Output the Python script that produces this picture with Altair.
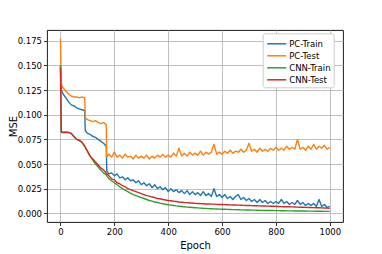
import altair as alt
import pandas as pd

epochs = [0, 3, 10, 20, 30, 40, 50, 60, 70, 80, 90, 92, 100, 110, 120, 130, 140, 150, 160, 170, 172, 180] + list(range(190, 1001, 10))

pc_train = [0.150, 0.125, 0.121, 0.117, 0.113, 0.110, 0.109, 0.107, 0.106, 0.105, 0.104, 0.084,
            0.081, 0.080, 0.078, 0.077, 0.075, 0.073, 0.071, 0.068, 0.043, 0.040,
            0.041, 0.038, 0.040, 0.036, 0.037, 0.034, 0.036, 0.033, 0.034, 0.031,
            0.033, 0.029, 0.031, 0.028, 0.030, 0.026, 0.029, 0.025, 0.027, 0.024,
            0.026, 0.022, 0.025, 0.022, 0.024, 0.021, 0.023, 0.020, 0.023, 0.019,
            0.022, 0.019, 0.021, 0.018, 0.022, 0.018, 0.020, 0.017, 0.025, 0.017,
            0.019, 0.016, 0.019, 0.015, 0.017, 0.014, 0.017, 0.019, 0.014, 0.016,
            0.013, 0.015, 0.012, 0.014, 0.011, 0.014, 0.011, 0.013, 0.010, 0.012,
            0.010, 0.012, 0.010, 0.014, 0.010, 0.012, 0.009, 0.011, 0.009, 0.013,
            0.009, 0.011, 0.008, 0.010, 0.008, 0.010, 0.007, 0.014, 0.007, 0.009,
            0.006, 0.007]

pc_test = [0.177, 0.131, 0.127, 0.124, 0.121, 0.119, 0.118, 0.118, 0.117, 0.118, 0.117, 0.097,
           0.095, 0.094, 0.093, 0.094, 0.092, 0.091, 0.092, 0.090, 0.057, 0.060,
           0.057, 0.062, 0.057, 0.059, 0.056, 0.060, 0.057, 0.058, 0.055, 0.059,
           0.056, 0.058, 0.056, 0.059, 0.055, 0.058, 0.056, 0.059, 0.057, 0.060,
           0.057, 0.059, 0.057, 0.061, 0.058, 0.066, 0.058, 0.061, 0.058, 0.062,
           0.059, 0.061, 0.059, 0.063, 0.059, 0.062, 0.060, 0.062, 0.070, 0.060,
           0.062, 0.060, 0.063, 0.061, 0.064, 0.061, 0.063, 0.062, 0.065, 0.062,
           0.064, 0.071, 0.063, 0.065, 0.062, 0.066, 0.063, 0.065, 0.063, 0.066,
           0.064, 0.067, 0.064, 0.066, 0.064, 0.068, 0.065, 0.067, 0.065, 0.075,
           0.065, 0.067, 0.064, 0.068, 0.065, 0.070, 0.065, 0.068, 0.066, 0.069,
           0.065, 0.067]

cnn_train = [0.150, 0.082, 0.082, 0.0825, 0.082, 0.081, 0.078, 0.075, 0.074, 0.072, 0.068, 0.067,
             0.063, 0.058, 0.054, 0.050, 0.047, 0.044, 0.041, 0.039, 0.038, 0.035,
             0.033, 0.031, 0.029, 0.027, 0.025, 0.0235, 0.022, 0.0205, 0.019, 0.018,
             0.017, 0.016, 0.015, 0.014, 0.013, 0.0123, 0.0115, 0.011, 0.0103, 0.0097,
             0.0092, 0.0087, 0.0083, 0.0079, 0.0075, 0.0072, 0.0069, 0.0066, 0.0063, 0.0061,
             0.0059, 0.0057, 0.0055, 0.0053, 0.0051, 0.0050, 0.0048, 0.0047, 0.0045, 0.0044,
             0.0043, 0.0042, 0.0041, 0.0040, 0.0039, 0.0038, 0.0037, 0.0036, 0.0035, 0.0035,
             0.0034, 0.0033, 0.0032, 0.0032, 0.0031, 0.0030, 0.0030, 0.0029, 0.0029, 0.0028,
             0.0028, 0.0027, 0.0027, 0.0026, 0.0026, 0.0025, 0.0025, 0.0025, 0.0024, 0.0024,
             0.0023, 0.0023, 0.0023, 0.0022, 0.0022, 0.0022, 0.0021, 0.0021, 0.0021, 0.0020,
             0.0020, 0.0020]

cnn_test = [0.147, 0.083, 0.082, 0.082, 0.082, 0.081, 0.078, 0.075, 0.074, 0.072, 0.068, 0.067,
            0.063, 0.058, 0.055, 0.052, 0.049, 0.046, 0.044, 0.041, 0.040, 0.038,
            0.035, 0.034, 0.031, 0.030, 0.028, 0.027, 0.025, 0.024, 0.023, 0.022,
            0.021, 0.020, 0.019, 0.018, 0.0175, 0.0165, 0.016, 0.015, 0.0148, 0.014,
            0.0135, 0.013, 0.0128, 0.0122, 0.012, 0.0115, 0.0113, 0.011, 0.0108, 0.0105,
            0.0104, 0.0101, 0.0100, 0.0098, 0.0097, 0.0095, 0.0095, 0.0093, 0.0093, 0.0091,
            0.0090, 0.0089, 0.0088, 0.0087, 0.0086, 0.0085, 0.0084, 0.0083, 0.0082, 0.0081,
            0.0080, 0.0079, 0.0078, 0.0077, 0.0077, 0.0076, 0.0075, 0.0074, 0.0073, 0.0072,
            0.0071, 0.0070, 0.0069, 0.0068, 0.0067, 0.0066, 0.0066, 0.0065, 0.0064, 0.0063,
            0.0062, 0.0061, 0.0060, 0.0059, 0.0059, 0.0058, 0.0057, 0.0056, 0.0055, 0.0054,
            0.0053, 0.0052]

series_names = ["PC-Train", "PC-Test", "CNN-Train", "CNN-Test"]
series_colors = ["#1f77b4", "#ff7f0e", "#2ca02c", "#d62728"]
series_values = [pc_train, pc_test, cnn_train, cnn_test]

x_ticks = [0, 200, 400, 600, 800, 1000]
y_ticks = [0.0, 0.025, 0.05, 0.075, 0.1, 0.125, 0.15, 0.175]

frames = []
for name, vals in zip(series_names, series_values):
    frames.append(pd.DataFrame({"Epoch": epochs, "MSE": vals, "Series": name}))
df = pd.concat(frames, ignore_index=True)

FONT = "DejaVu Sans"

x_enc = alt.X("Epoch:Q",
              scale=alt.Scale(domain=[-50, 1049], nice=False, zero=False),
              axis=alt.Axis(values=x_ticks, title="Epoch", format="d",
                            titleY=26.5, titleBaseline="alphabetic"))
y_enc = alt.Y("MSE:Q",
              scale=alt.Scale(domain=[-0.0088, 0.1859], nice=False, zero=False),
              axis=alt.Axis(values=y_ticks, title="MSE", format=".3f",
                            titleX=-30.5, titleY=96, titleBaseline="alphabetic",
                            titleAngle=-90, titleAlign="center"))
color_enc = alt.Color("Series:N",
                      scale=alt.Scale(domain=series_names, range=series_colors),
                      legend=alt.Legend(title=None, orient="none", legendX=215.7, legendY=3.3))

layers = []
for name in series_names:
    layers.append(
        alt.Chart(df).transform_filter(alt.datum.Series == name)
        .mark_line(strokeWidth=1.4, strokeJoin="round")
        .encode(x=x_enc, y=y_enc, color=color_enc)
    )

chart = alt.layer(*layers).properties(
    width=296, height=192,
    autosize=alt.AutoSizeParams(type="none"),
    padding={"left": 39, "top": 22, "right": 30, "bottom": 29},
).configure_view(
    stroke="black", strokeWidth=0.9
).configure_axis(
    domain=False,
    grid=True, gridColor="#b0b0b0", gridWidth=0.8,
    ticks=True, tickColor="black", tickSize=3.5, tickWidth=0.8,
    labelFont=FONT, labelFontSize=8.5, labelColor="black", labelPadding=2,
    titleFont=FONT, titleFontSize=10, titleColor="black", titleFontWeight="normal",
).configure_legend(
    fillColor="white", strokeColor="#cccccc", cornerRadius=2, padding=3,
    labelFont=FONT, labelFontSize=8.5, labelColor="black",
    symbolType="M-1.46,0L1.46,0", symbolSize=169, symbolStrokeWidth=1.5,
    symbolOffset=3.5, labelOffset=5, rowPadding=0,
)

chart.save("out.html", embed_options={"renderer": "svg", "actions": False})
